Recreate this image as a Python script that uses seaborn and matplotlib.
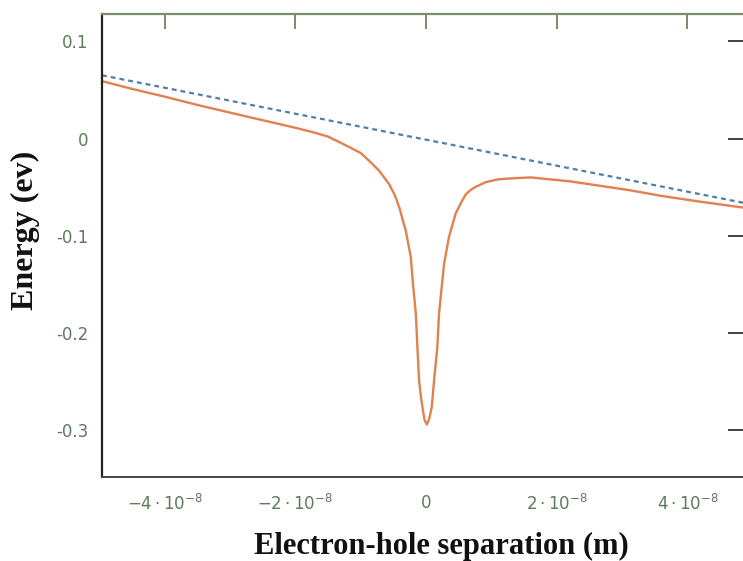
import matplotlib
matplotlib.use("Agg")
import matplotlib.pyplot as plt
import seaborn as sns
import pandas as pd

# Data (x in units of 1e-8 m, energy in eV)
curve_x = [-4.96, -4.5, -4.0, -3.5, -3.0, -2.5, -2.0, -1.75, -1.5, -1.2, -1.0, -0.87,
           -0.72, -0.565, -0.48, -0.41, -0.31, -0.234, -0.2, -0.157, -0.133, -0.107,
           -0.08, -0.056, -0.025, 0.01, 0.045, 0.087, 0.122, 0.172, 0.198, 0.249,
           0.275, 0.351, 0.453, 0.53, 0.606, 0.68, 0.75, 0.91, 1.1, 1.3, 1.6, 1.9,
           2.2, 2.6, 3.1, 3.6, 4.2, 4.85]
curve_y = [0.059, 0.051, 0.043, 0.0345, 0.0266, 0.0188, 0.011, 0.0068, 0.002, -0.008,
           -0.015, -0.023, -0.033, -0.047, -0.058, -0.071, -0.095, -0.122, -0.150,
           -0.180, -0.2145, -0.249, -0.265, -0.276, -0.289, -0.294, -0.289, -0.276,
           -0.249, -0.2145, -0.180, -0.146, -0.129, -0.101, -0.077, -0.0665, -0.0575,
           -0.053, -0.050, -0.045, -0.042, -0.041, -0.040, -0.042, -0.044, -0.048,
           -0.053, -0.059, -0.065, -0.071]
field_x = [-4.96, 4.85]
field_y = [0.065, -0.066]

x_ticks = [-4, -2, 0, 2, 4]
x_tick_labels = [r"$-4\cdot10^{-8}$", r"$-2\cdot10^{-8}$", "0",
                 r"$2\cdot10^{-8}$", r"$4\cdot10^{-8}$"]
y_ticks = [0.1, 0.0, -0.1, -0.2, -0.3]
y_tick_labels = ["0.1", "0", "-0.1", "-0.2", "-0.3"]

sns.set_style("white")
plt.rcParams["font.family"] = ["DejaVu Sans"]
plt.rcParams["mathtext.fontset"] = "dejavusans"

fig = plt.figure(figsize=(7.43, 5.61), dpi=100)
ax = fig.add_axes([102 / 743, 1 - 477 / 561, 1 - 102 / 743, (477 - 14) / 561])

df_curve = pd.DataFrame({"x": curve_x, "y": curve_y})
df_field = pd.DataFrame({"x": field_x, "y": field_y})

sns.lineplot(data=df_field, x="x", y="y", ax=ax, color="#4f7fa3", lw=1.6,
             dashes=False, linestyle=(0, (2.2, 1.8)))
sns.lineplot(data=df_curve, x="x", y="y", ax=ax, color="#e0814f", lw=1.7)

ax.set_xlim(-4.96, 4.85)
ax.set_ylim(-0.348, 0.128)

ax.set_xticks(x_ticks)
ax.set_xticklabels(x_tick_labels)
ax.set_yticks(y_ticks)
ax.set_yticklabels(y_tick_labels)

tick_color = "#5d7a5a"
ax.tick_params(axis="both", direction="in", length=11, width=1.3,
               labelsize=12, labelcolor=tick_color)
ax.tick_params(axis="x", top=True, pad=12, color="#6f8460")
ax.tick_params(axis="y", right=True, pad=10, color="#333333")
for lbl in ax.get_xticklabels() + ax.get_yticklabels():
    lbl.set_color(tick_color)

ax.spines["left"].set_color("#222222")
ax.spines["left"].set_linewidth(1.6)
ax.spines["bottom"].set_color("#444444")
ax.spines["bottom"].set_linewidth(1.4)
ax.spines["top"].set_color("#7d8d6e")
ax.spines["top"].set_linewidth(1.6)
ax.spines["right"].set_visible(False)

ax.set_xlabel("Electron-hole separation (m)", family="Liberation Serif",
              fontweight="bold", fontsize=22, color="#111111")
ax.set_ylabel("Energy (ev)", family="Liberation Serif",
              fontweight="bold", fontsize=23, color="#111111")
ax.xaxis.set_label_coords(0.529, -0.118)
ax.yaxis.set_label_coords(-0.097, 0.533)

fig.savefig("out.png", dpi=100)
